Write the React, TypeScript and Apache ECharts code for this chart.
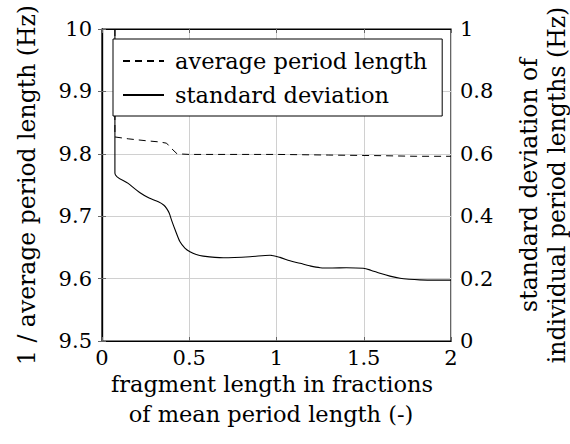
import React, { useEffect, useRef } from "react";
import * as echarts from "echarts";

const xTicks = [0, 0.5, 1, 1.5, 2];
const avgX = [0.074, 0.074, 0.15, 0.25, 0.33, 0.37, 0.40, 0.43, 0.5, 0.8, 1.0, 1.3, 1.6, 1.8, 2.0];
const avgY = [10.0, 9.827, 9.824, 9.821, 9.819, 9.817, 9.808, 9.800, 9.799, 9.799, 9.799, 9.798, 9.797, 9.796, 9.796];
const stdX = [0.074, 0.074, 0.15, 0.218, 0.27, 0.323, 0.355, 0.37, 0.385, 0.40, 0.42, 0.447, 0.475, 0.504, 0.54, 0.58, 0.695, 0.848, 0.963, 1.02, 1.077, 1.135, 1.19, 1.25, 1.32, 1.40, 1.497, 1.54, 1.593, 1.65, 1.708, 1.76, 1.822, 1.9, 2.0];
const stdY = [1.0, 0.538, 0.505, 0.475, 0.458, 0.446, 0.435, 0.425, 0.41, 0.385, 0.355, 0.318, 0.298, 0.286, 0.277, 0.272, 0.267, 0.270, 0.275, 0.268, 0.257, 0.249, 0.241, 0.235, 0.234, 0.235, 0.233, 0.227, 0.217, 0.208, 0.201, 0.198, 0.196, 0.195, 0.195];

const FONT = "'DejaVu Serif', serif";
const FS = 22.5;
const VFS = 23.5;
const TFS = 21;

export default function App() {
  const ref = useRef<HTMLDivElement>(null);
  useEffect(() => {
    if (!ref.current) return;
    const chart = echarts.init(ref.current, null, { renderer: "svg" });
    const avgData = avgX.map((x, i) => [x, avgY[i]]);
    const stdData = stdX.map((x, i) => [x, stdY[i]]);
    const txt = (text: string, x: number, y: number, rot: number, fs: number) => ({
      type: "text",
      x,
      y,
      rotation: rot,
      style: { text, font: `${fs}px ${FONT}`, fill: "#000", align: "center", verticalAlign: "middle" },
    });
    chart.setOption({
      animation: false,
      backgroundColor: "#fff",
      textStyle: { fontFamily: FONT },
      grid: {
        left: 102,
        right: 119,
        top: 29,
        bottom: 103,
        show: true,
        borderColor: "#000",
        borderWidth: 1.2,
        backgroundColor: "transparent",
      },
      legend: {
        left: 113,
        top: 39,
        orient: "vertical",
        backgroundColor: "#fff",
        borderColor: "#000",
        borderWidth: 1,
        borderRadius: 0,
        padding: [10, 15, 9, 9],
        itemGap: 10,
        itemWidth: 41,
        itemHeight: 14,
        itemStyle: { color: "rgba(0,0,0,0)", borderColor: "rgba(0,0,0,0)", borderWidth: 0 },
        textStyle: { fontFamily: FONT, fontSize: FS, lineHeight: 24, color: "#000", padding: [0, 0, 0, 6] },
        data: ["average period length", "standard deviation"],
        z: 10,
      },
      xAxis: [
        {
          type: "value",
          min: xTicks[0],
          max: xTicks[xTicks.length - 1],
          interval: 0.5,
          axisLine: { show: true, lineStyle: { color: "#000", width: 1.2 } },
          axisTick: { show: true, inside: true, length: 4, lineStyle: { color: "#666" } },
          axisLabel: { fontFamily: FONT, fontSize: TFS, color: "#000", margin: 6 },
          splitLine: { show: true, lineStyle: { color: "#d0d0d0", width: 1 } },
        },
        {
          type: "value",
          position: "top",
          min: xTicks[0],
          max: xTicks[xTicks.length - 1],
          interval: 0.5,
          axisLine: { show: true, lineStyle: { color: "#000", width: 1.2 } },
          axisTick: { show: true, inside: true, length: 4, lineStyle: { color: "#666" } },
          axisLabel: { show: false },
          splitLine: { show: false },
        },
      ],
      yAxis: [
        {
          type: "value",
          min: 9.5,
          max: 10,
          interval: 0.1,
          position: "left",
          axisLine: { show: true, lineStyle: { color: "#000", width: 1.2 } },
          axisTick: { show: true, inside: true, length: 4, lineStyle: { color: "#666" } },
          axisLabel: {
            fontFamily: FONT,
            fontSize: TFS,
            color: "#000",
            margin: 10,
            formatter: (v: number) => (Math.abs(v - 10) < 1e-9 ? "10" : v.toFixed(1)),
          },
          splitLine: { show: true, lineStyle: { color: "#d0d0d0", width: 1 } },
        },
        {
          type: "value",
          min: 0,
          max: 1,
          interval: 0.2,
          position: "right",
          axisLine: { show: true, lineStyle: { color: "#000", width: 1.2 } },
          axisTick: { show: true, inside: true, length: 4, lineStyle: { color: "#666" } },
          axisLabel: {
            fontFamily: FONT,
            fontSize: TFS,
            color: "#000",
            margin: 9,
            formatter: (v: number) => (v === 0 ? "0" : v === 1 ? "1" : v.toFixed(1)),
          },
          splitLine: { show: false },
        },
      ],
      series: [
        {
          name: "average period length",
          type: "line",
          xAxisIndex: 0,
          yAxisIndex: 0,
          data: avgData,
          showSymbol: false,
          symbol: "none",
          lineStyle: { color: "#000", width: 1, type: [7, 5] },
          itemStyle: { color: "#000" },
        },
        {
          name: "standard deviation",
          type: "line",
          xAxisIndex: 0,
          yAxisIndex: 1,
          data: stdData,
          smooth: 0.3,
          showSymbol: false,
          symbol: "none",
          lineStyle: { color: "#000", width: 1.1 },
          itemStyle: { color: "#000" },
        },
      ],
      graphic: [
        txt("1 / average period length (Hz)", 27, 185, Math.PI / 2, VFS),
        txt("standard deviation of", 529, 185, Math.PI / 2, VFS),
        txt("individual period lengths (Hz)", 557, 185, Math.PI / 2, VFS),
        txt("fragment length in fractions", 272, 384, 0, FS),
        txt("of mean period length (-)", 271, 414, 0, FS),
      ],
    });
    return () => chart.dispose();
  }, []);
  return <div ref={ref} style={{ position: "absolute", left: 0, top: 0, width: 570, height: 444 }} />;
}
